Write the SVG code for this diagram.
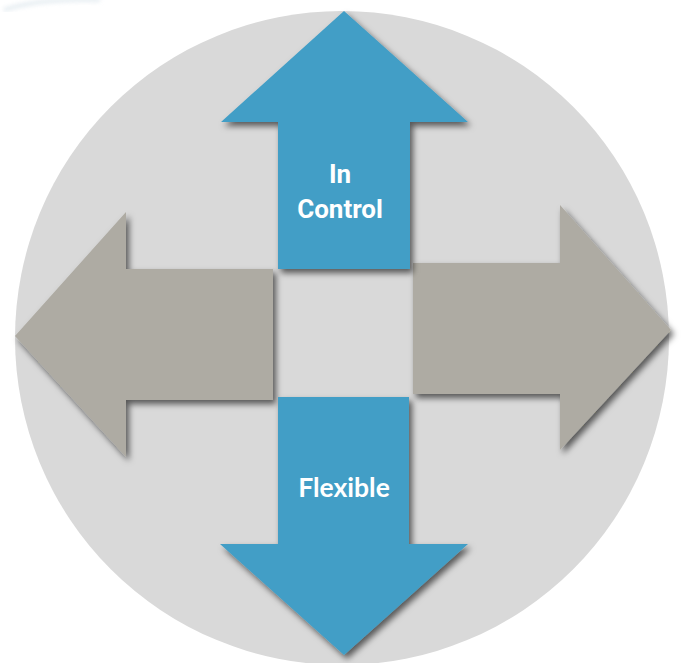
<svg xmlns="http://www.w3.org/2000/svg" width="681" height="663" viewBox="0 0 681 663">
<defs>
<filter id="sh" x="-20%" y="-20%" width="140%" height="140%">
<feDropShadow dx="3" dy="4" stdDeviation="3" flood-color="#000" flood-opacity="0.6"/>
</filter>
<filter id="blur"><feGaussianBlur stdDeviation="2"/></filter>
</defs>
<style>
.blue{fill:#429ec6;filter:url(#sh)}
.gray{fill:#aeaba3;filter:url(#sh)}
.lbl{font-family:Roboto,"Liberation Sans",sans-serif;font-weight:bold;font-size:26px;fill:#fff;text-anchor:middle}
.lbl2{font-family:Lato,"Open Sans","Liberation Sans",sans-serif;font-weight:bold;font-size:26.5px;fill:#fff;text-anchor:middle}
</style>
<rect width="681" height="663" fill="#fff"/>
<path d="M4,10 Q40,-2 100,0" fill="none" stroke="#dfe8ee" stroke-width="4" filter="url(#blur)" opacity="0.8"/>
<g id="background">
<circle cx="342" cy="338" r="327" fill="#d9d9d9"/>
</g>
<g id="connectors">
<g id="left-arrow"><polygon class="gray" points="15,336 126,212 126,269 273,269 273,400 126,400 126,457"/></g>
<g id="right-arrow"><polygon class="gray" points="671,330 560,205 560,263 413,263 413,394 560,394 560,450"/></g>
</g>
<g id="node-in-control">
<polygon class="blue" points="344,11 468,122 410,122 410,269 278,269 278,122 221,122"/>
<text class="lbl" x="340" y="183">In</text>
<text class="lbl" x="340" y="218">Control</text>
</g>
<g id="node-flexible">
<polygon class="blue" points="278,397 409,397 409,544 468,544 344,655 220,544 278,544"/>
<text class="lbl2" x="344" y="497">Flexible</text>
</g>
</svg>
